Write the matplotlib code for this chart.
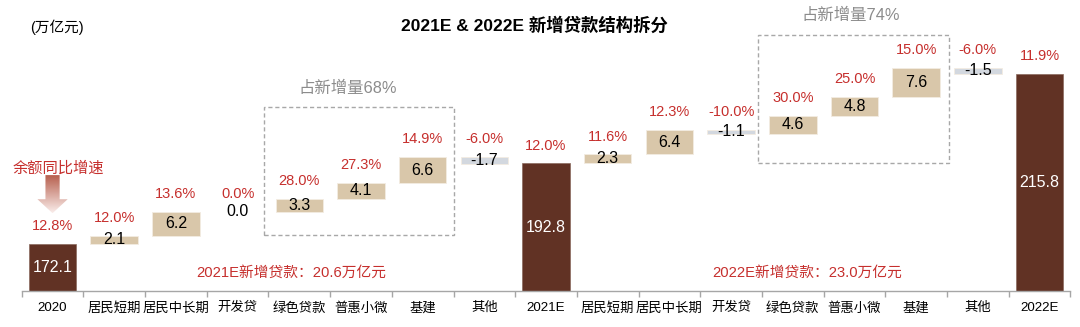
import numpy as np
import matplotlib
matplotlib.use('Agg')
import matplotlib.pyplot as plt
from matplotlib.patches import Rectangle, Polygon

plt.rcParams['font.family'] = ['Liberation Sans', 'Noto Sans CJK SC', 'DejaVu Sans']

categories = ['2020', '居民短期', '居民中长期', '开发贷', '绿色贷款', '普惠小微', '基建', '其他', '2021E',
              '居民短期', '居民中长期', '开发贷', '绿色贷款', '普惠小微', '基建', '其他', '2022E']
values = [172.1, 2.1, 6.2, 0.0, 3.3, 4.1, 6.6, -1.7, 192.8,
          2.3, 6.4, -1.1, 4.6, 4.8, 7.6, -1.5, 215.8]
growth = ['12.8%', '12.0%', '13.6%', '0.0%', '28.0%', '27.3%', '14.9%', '-6.0%', '12.0%',
          '11.6%', '12.3%', '-10.0%', '30.0%', '25.0%', '15.0%', '-6.0%', '11.9%']
is_total = [True, False, False, False, False, False, False, False, True,
            False, False, False, False, False, False, False, True]

BROWN = '#613224'
TAN = '#D9C7AA'
GREY = '#D3D8DF'
RED = '#C62F2D'
BASE = 160.0

fig = plt.figure(figsize=(10.8, 3.27), dpi=100)
ax = fig.add_axes([0.0201, 0.110, 0.971, 0.890])
ax.set_xlim(-0.5, len(categories) - 0.5)
ax.set_ylim(BASE, BASE + 291 / 3.89)

x = np.arange(len(categories))
running = 0.0
for i, v in enumerate(values):
    if is_total[i]:
        ax.bar(i, v - BASE, bottom=BASE, width=0.77, color=BROWN, edgecolor='#8A6A5E', linewidth=0.5, zorder=2)
        running = v
        ax.text(i, (BASE + v) / 2, f'{v:.1f}', color='white', ha='center', va='center', fontsize=11.5, zorder=3)
        top = v
    else:
        lo = running + min(v, 0)
        hi = running + max(v, 0)
        if v != 0:
            ax.bar(i, hi - lo, bottom=lo, width=0.77, color=TAN if v > 0 else GREY, edgecolor='#F3ECE2',
                   linewidth=0.6, zorder=2)
        ax.text(i, (lo + hi) / 2, f'{v:.1f}', color='black', ha='center', va='center', fontsize=11.5, zorder=3)
        running += v
        top = hi
    ax.text(i, top + 4.6, growth[i], color=RED, ha='center', va='center', fontsize=10.5, zorder=3)

# axis styling
for s in ['top', 'right', 'left']:
    ax.spines[s].set_visible(False)
ax.spines['bottom'].set_color('#A6A6A6')
ax.spines['bottom'].set_linewidth(1.0)
ax.set_yticks([])
ax.set_xticks(np.arange(len(categories) + 1) - 0.5)
ax.set_xticklabels([])
ax.tick_params(axis='x', which='major', length=4, color='#A6A6A6', width=1.0)
ax.set_xticks(x, minor=True)
ax.set_xticklabels(categories, minor=True, fontsize=9.6)
ax.tick_params(axis='x', which='minor', length=0, pad=8)

# dashed boxes grouping the policy-driven loans
box_kw = dict(fill=False, edgecolor='#A8A8A8', linestyle=(0, (3, 2)), linewidth=1.0, zorder=1)
ax.add_patch(Rectangle((3.42, 174.4), 3.08, 32.9, **box_kw))
ax.add_patch(Rectangle((11.44, 192.9), 3.10, 32.9, **box_kw))
fig.text(348 / 1080, 1 - 88 / 327, '占新增量68%', color='#8C8C8C', fontsize=11.8, ha='center', va='center')
fig.text(851 / 1080, 1 - 15 / 327, '占新增量74%', color='#8C8C8C', fontsize=11.8, ha='center', va='center')

# titles and notes
fig.text(534 / 1080, 1 - 25 / 327, '2021E & 2022E 新增贷款结构拆分', fontsize=12.5, fontweight='bold',
         ha='center', va='center')
fig.text(30 / 1080, 1 - 27 / 327, '(万亿元)', fontsize=10.5, ha='left', va='center')
fig.text(291 / 1080, 1 - 273 / 327, '2021E新增贷款：20.6万亿元', color=RED, fontsize=10.6, ha='center', va='center')
fig.text(807 / 1080, 1 - 273 / 327, '2022E新增贷款：23.0万亿元', color=RED, fontsize=10.6, ha='center', va='center')
fig.text(58 / 1080, 1 - 168 / 327, '余额同比增速', color=RED, fontsize=11, ha='center', va='center')

# gradient arrow pointing at the 2020 growth rate
sw, hw = 0.115, 0.245
y_top, y_head, y_tip = 189.8, 183.6, 180.0
arrow = Polygon([(-sw, y_top), (sw, y_top), (sw, y_head), (hw, y_head), (0, y_tip),
                 (-hw, y_head), (-sw, y_head)], closed=True, facecolor='none', edgecolor='none')
ax.add_patch(arrow)
grad = np.linspace(0, 1, 100)[:, None]
c0 = np.array([0.98, 0.93, 0.92])
c1 = np.array([0.71, 0.36, 0.29])
img = c0 + (c1 - c0) * grad[..., None]
img = np.repeat(img, 2, axis=1)
im = ax.imshow(img, extent=(-hw, hw, y_top, y_tip), origin='upper', aspect='auto', zorder=2)
im.set_clip_path(arrow)

fig.savefig('out.png', dpi=100)
